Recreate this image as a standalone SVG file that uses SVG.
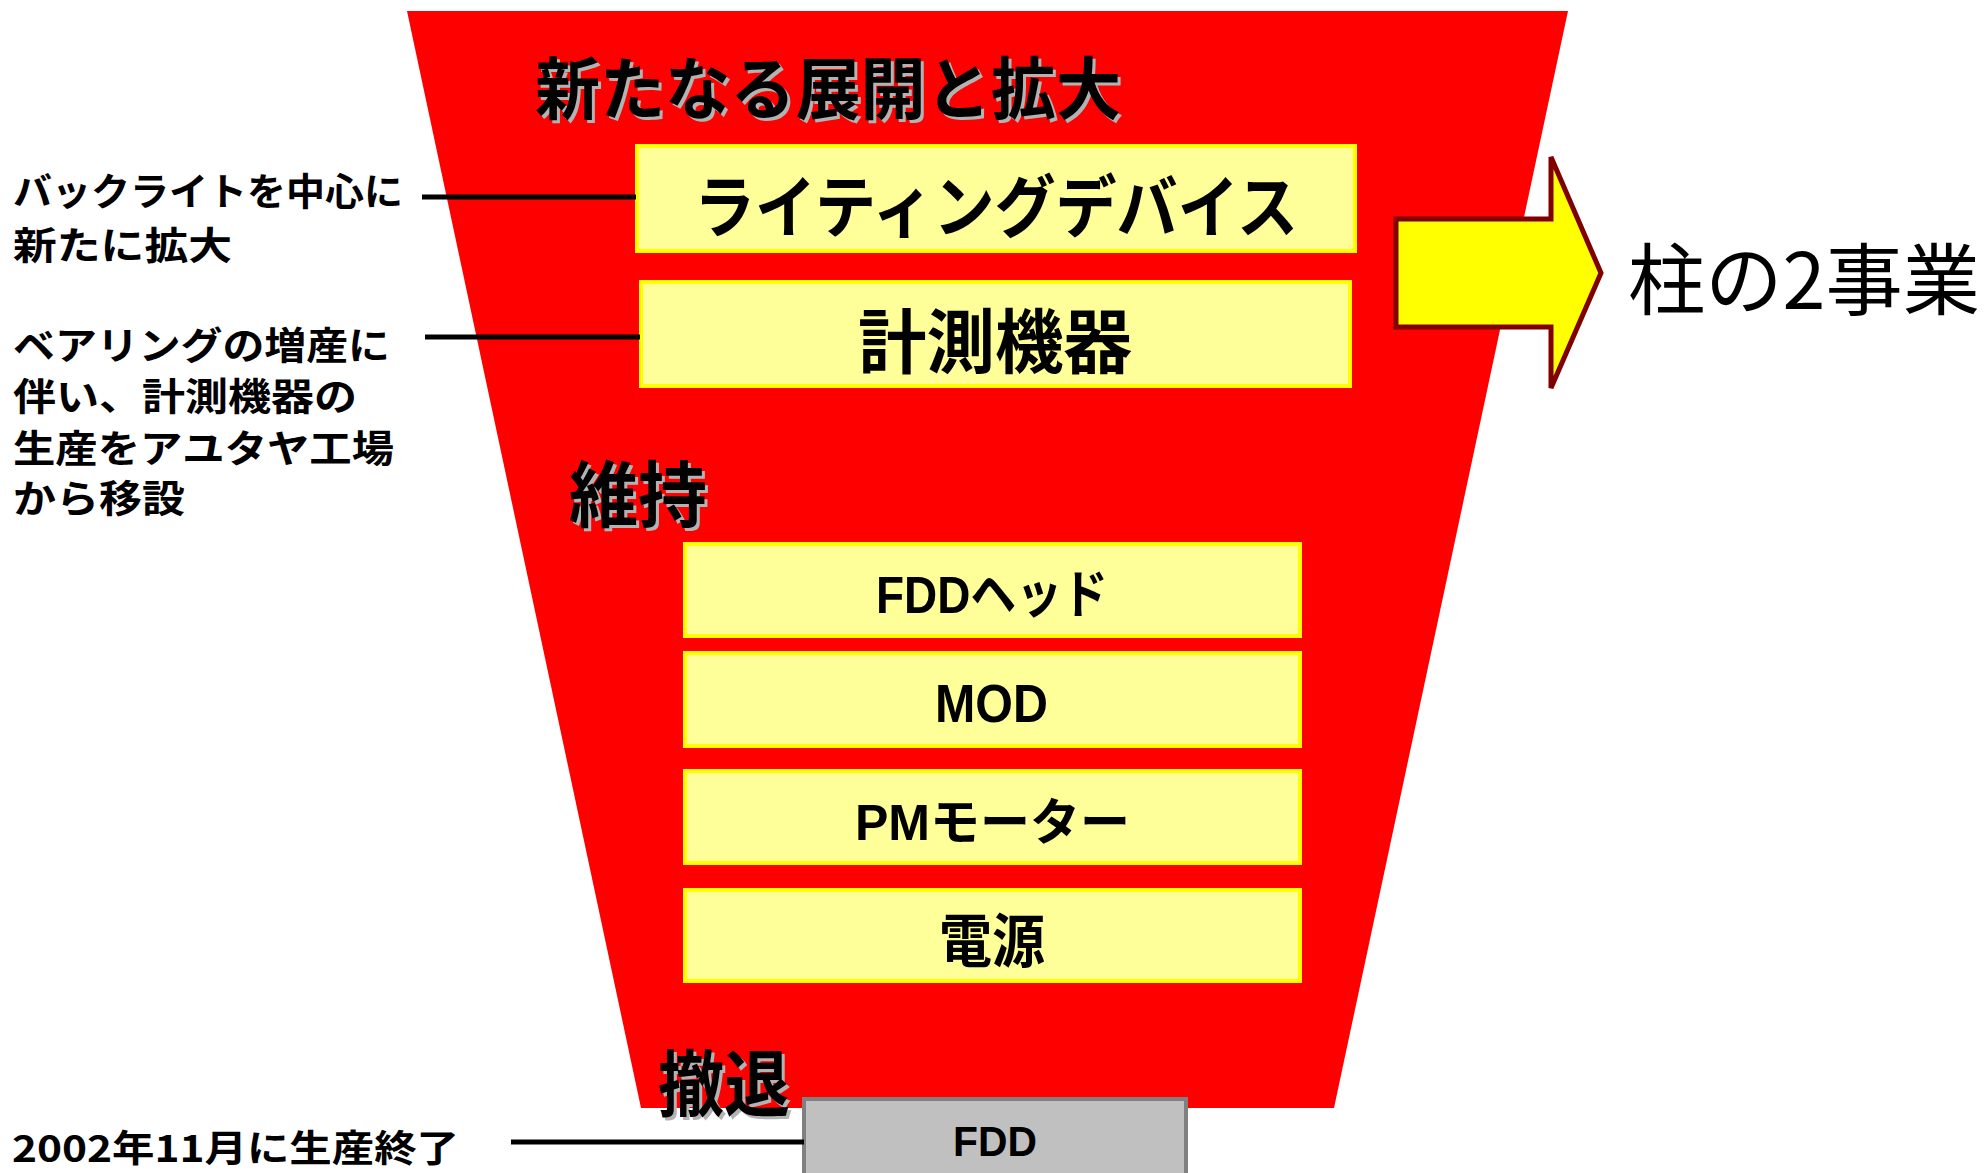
<svg xmlns="http://www.w3.org/2000/svg" width="1988" height="1173" viewBox="0 0 1988 1173">
<style>
.jp{font-family:"Noto Sans CJK JP","Noto Sans CJK SC",sans-serif;fill:#000}
.lat{font-family:"Liberation Sans","Noto Sans CJK JP",sans-serif;fill:#000}
.b{font-weight:bold}
.c{dominant-baseline:central}
.sh{fill:#B3B3B3}
.box{fill:#FFFF99;stroke:#FFFF00;stroke-width:4}
.gray{fill:#C0C0C0;stroke:#808080;stroke-width:4}
.ln{stroke:#000;stroke-width:5;fill:none}
</style>
<g id="funnel"><polygon points="407,11 1568,11 1334,1108 641,1108" fill="#FF0000"/></g>
<g id="title-expand">
<text class="jp b c sh" x="538" y="87" font-size="68" textLength="586" lengthAdjust="spacingAndGlyphs">新たなる展開と拡大</text>
<text class="jp b c" x="535" y="84" font-size="68" textLength="586" lengthAdjust="spacingAndGlyphs">新たなる展開と拡大</text>
</g>
<g id="node-lighting">
<rect class="box" x="637" y="146" width="718" height="105"/>
<text class="jp b c" x="694" y="202" font-size="68" textLength="604" lengthAdjust="spacingAndGlyphs">ライティングデバイス</text>
</g>
<g id="node-measure">
<rect class="box" x="641" y="282" width="709" height="104"/>
<text class="jp b c" x="858" y="337" font-size="70" textLength="274" lengthAdjust="spacingAndGlyphs">計測機器</text>
</g>
<g id="arrow">
<polygon points="1396,219 1551,219 1551,157 1601,273 1551,388 1551,327 1396,327" fill="#FFFF00" stroke="#800000" stroke-width="5"/>
</g>
<g id="label-pillar">
<text class="jp c" x="1628" y="275" font-size="78" textLength="352" lengthAdjust="spacingAndGlyphs">柱の2事業</text>
</g>
<g id="note-backlight">
<text class="jp b c" x="13" y="188" font-size="38" textLength="390" lengthAdjust="spacingAndGlyphs">バックライトを中心に</text>
<text class="jp b c" x="13" y="242" font-size="38" textLength="219" lengthAdjust="spacingAndGlyphs">新たに拡大</text>
</g>
<g id="note-bearing">
<text class="jp b c" x="13" y="342" font-size="38" textLength="377" lengthAdjust="spacingAndGlyphs">ベアリングの増産に</text>
<text class="jp b c" x="13" y="393" font-size="38" textLength="344" lengthAdjust="spacingAndGlyphs">伴い、計測機器の</text>
<text class="jp b c" x="13" y="445" font-size="38" textLength="381" lengthAdjust="spacingAndGlyphs">生産をアユタヤ工場</text>
<text class="jp b c" x="13" y="495" font-size="38" textLength="172" lengthAdjust="spacingAndGlyphs">から移設</text>
</g>
<g id="title-maintain">
<text class="jp b c sh" x="572" y="492" font-size="72" textLength="138" lengthAdjust="spacingAndGlyphs">維持</text>
<text class="jp b c" x="569" y="489" font-size="72" textLength="138" lengthAdjust="spacingAndGlyphs">維持</text>
</g>
<g id="node-fddhead">
<rect class="box" x="685" y="544" width="615" height="92"/>
<text class="lat b" x="876" y="613" font-size="52" textLength="232" lengthAdjust="spacingAndGlyphs">FDDヘッド</text>
</g>
<g id="node-mod">
<rect class="box" x="685" y="653" width="615" height="93"/>
<text class="lat b" x="935" y="722" font-size="54" textLength="113" lengthAdjust="spacingAndGlyphs">MOD</text>
</g>
<g id="node-pm">
<rect class="box" x="685" y="771" width="615" height="92"/>
<text class="lat b" x="855" y="840" font-size="50" textLength="275" lengthAdjust="spacingAndGlyphs">PMモーター</text>
</g>
<g id="node-power">
<rect class="box" x="685" y="890" width="615" height="91"/>
<text class="jp b c" x="939" y="937" font-size="58" textLength="106" lengthAdjust="spacingAndGlyphs">電源</text>
</g>
<g id="title-withdraw">
<text class="jp b c sh" x="661" y="1081" font-size="72" textLength="132" lengthAdjust="spacingAndGlyphs">撤退</text>
<text class="jp b c" x="658" y="1078" font-size="72" textLength="132" lengthAdjust="spacingAndGlyphs">撤退</text>
</g>
<g id="node-fdd">
<rect class="gray" x="804" y="1099" width="382" height="90"/>
<text class="lat b" x="953" y="1156" font-size="42" textLength="84" lengthAdjust="spacingAndGlyphs">FDD</text>
</g>
<g id="note-fdd">
<text class="jp b c" x="12" y="1146" font-size="37" textLength="447" lengthAdjust="spacingAndGlyphs">2002年11月に生産終了</text>
</g>
<g id="connectors">
<line class="ln" x1="422" y1="197" x2="636" y2="197"/>
<line class="ln" x1="425" y1="337" x2="640" y2="337"/>
<line class="ln" x1="511" y1="1142" x2="804" y2="1142"/>
</g>
</svg>
